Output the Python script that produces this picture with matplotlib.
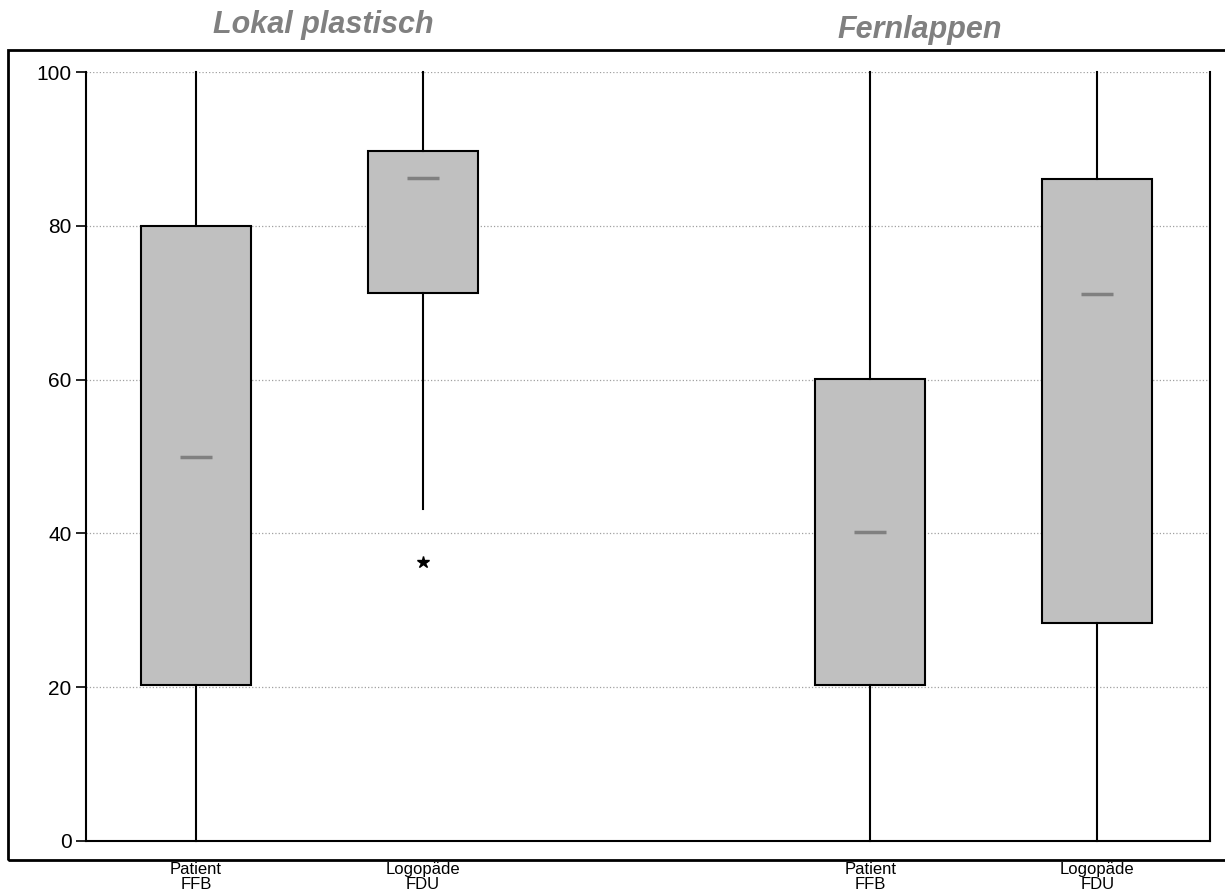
import matplotlib.pyplot as plt
from matplotlib.patches import Rectangle

plt.rcParams['font.family'] = ['Liberation Sans', 'DejaVu Sans']

# Werte
gruppen = ['Lokal plastisch', 'Fernlappen']
labels = ['Patient\nFFB', 'Logopäde\nFDU', 'Patient\nFFB', 'Logopäde\nFDU']
positions = [1, 2, 3.97, 4.97]
whislo = [0, 43.2, 0, 0]
q1 = [20.3, 71.3, 20.3, 28.3]
med = [50.0, 86.2, 40.2, 71.1]
q3 = [80.0, 89.7, 60.1, 86.1]
whishi = [100, 100, 100, 100]
ausreisser = [[], [36.3], [], []]
yticks = [0, 20, 40, 60, 80, 100]

stats = []
for i in range(len(labels)):
    stats.append({'whislo': whislo[i], 'q1': q1[i], 'med': med[i], 'q3': q3[i],
                  'whishi': whishi[i], 'fliers': ausreisser[i], 'label': labels[i]})

fig = plt.figure(figsize=(12.25, 8.92), dpi=100)
ax = fig.add_axes([86 / 1225, 1 - 841 / 892, 1124 / 1225, 769 / 892])

bp = ax.bxp(stats, positions=positions, widths=0.485, patch_artist=True, showcaps=False,
            boxprops=dict(facecolor='#c0c0c0', edgecolor='black', linewidth=1.5),
            whiskerprops=dict(color='black', linewidth=1.5),
            medianprops=dict(color='#808080', linewidth=2.5),
            flierprops=dict(marker='*', markerfacecolor='black', markeredgecolor='black',
                            markersize=9))
for w in bp['whiskers']:
    w.set_clip_on(False)
# kurze Medianstriche
for m, p in zip(bp['medians'], positions):
    m.set_xdata([p - 0.07, p + 0.07])

ax.set_ylim(0, 100)
ax.set_xlim(0.515, 5.467)
ax.set_yticks(yticks)
ax.set_xticks(positions)
ax.set_xticklabels(labels, fontsize=12, linespacing=1.05)
ax.tick_params(axis='x', length=0, pad=15)
ax.tick_params(axis='y', labelsize=15, length=7, width=1.2)
ax.yaxis.grid(True, color='#a0a0a0', linestyle=':', linewidth=0.9)
ax.set_axisbelow(True)
ax.spines['top'].set_visible(False)
for s in ['left', 'right', 'bottom']:
    ax.spines[s].set_linewidth(1.5)

# aeusserer Rahmen
fig.patches.append(Rectangle((8 / 1225, 1 - 860 / 892), 1.0, 810 / 892, transform=fig.transFigure,
                             fill=False, edgecolor='black', linewidth=2))

fig.text(323 / 1225, 1 - 25 / 892, gruppen[0], ha='center', va='center', fontsize=22,
         fontweight='bold', fontstyle='italic', color='#808080')
fig.text(920 / 1225, 1 - 30 / 892, gruppen[1], ha='center', va='center', fontsize=22,
         fontweight='bold', fontstyle='italic', color='#808080')

fig.savefig('out.png', dpi=100)
